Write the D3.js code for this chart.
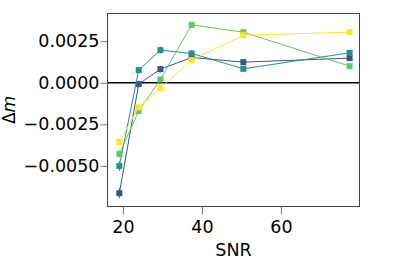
<!DOCTYPE html>
<meta charset="utf-8">
<style>
body{ margin: 0; background: white; }
text{ font-family: "DejaVu Sans", sans-serif; fill: black; }
</style>
<svg id="chart" width="399" height="266"></svg>
<script src="https://cdn.jsdelivr.net/npm/d3@7"></script>
<script>

var snr = [19.1, 24.0, 29.5, 37.4, 50.5, 77.4]

var seriesBlue   = [-0.00664, -0.00008, 0.00082, 0.00152, 0.00124, 0.00148]
var seriesTeal   = [-0.00500, 0.00076, 0.00196, 0.00176, 0.00084, 0.00180]
var seriesGreen  = [-0.00428, -0.00170, 0.00020, 0.00348, 0.00304, 0.00100]
var seriesYellow = [-0.00356, -0.00148, -0.00032, 0.00136, 0.00286, 0.00304]

var errBlue   = [0.0003, 0.0002, 0.0002, 0.0002, 0.0001, 0.0001]
var errTeal   = [0.0003, 0.0002, 0.0002, 0.0002, 0.0001, 0.0001]
var errGreen  = [0.0002, 0.0001, 0.0001, 0.0001, 0.0001, 0.0001]
var errYellow = [0.0002, 0.0001, 0.0001, 0.0001, 0.0001, 0.0001]

var xTicks = [20, 40, 60]
var yTicks = [-0.005, -0.0025, 0, 0.0025]

var series = [
  {vals: seriesBlue,   err: errBlue,   color: '#3b528b'},
  {vals: seriesTeal,   err: errTeal,   color: '#21918c'},
  {vals: seriesGreen,  err: errGreen,  color: '#5ec962'},
  {vals: seriesYellow, err: errYellow, color: '#fde725'}
]

var mLeft = 107.5, mRight = 359.5, mTop = 13.5, mBottom = 206.5

var x = d3.scaleLinear().domain([16.1, 79.9]).range([mLeft, mRight])
var y = d3.scaleLinear().domain([-0.00744, 0.004164]).range([mBottom, mTop])

var svg = d3.select('#chart')

// zero line
svg.append('line')
    .attr('x1', mLeft).attr('x2', mRight)
    .attr('y1', y(0)).attr('y2', y(0))
    .style('stroke', 'black').style('stroke-width', 1.5)

var line = d3.line()
    .x(function(d){ return x(d[0]) })
    .y(function(d){ return y(d[1]) })

series.forEach(function(s){
  var pts = snr.map(function(v, i){ return [v, s.vals[i], s.err[i]] })
  var g = svg.append('g')
  g.append('path')
      .attr('d', line(pts))
      .style('fill', 'none').style('stroke', s.color).style('stroke-width', 1)
  g.selectAll('line.err').data(pts).enter().append('line')
      .attr('x1', function(d){ return x(d[0]) })
      .attr('x2', function(d){ return x(d[0]) })
      .attr('y1', function(d){ return y(d[1] - d[2]) })
      .attr('y2', function(d){ return y(d[1] + d[2]) })
      .style('stroke', s.color).style('stroke-width', 1)
  g.selectAll('rect').data(pts).enter().append('rect')
      .attr('x', function(d){ return x(d[0]) - 3 })
      .attr('y', function(d){ return y(d[1]) - 3 })
      .attr('width', 6).attr('height', 6)
      .style('fill', s.color)
})

// frame
svg.append('rect')
    .attr('x', mLeft).attr('y', mTop)
    .attr('width', mRight - mLeft).attr('height', mBottom - mTop)
    .style('fill', 'none').style('stroke', '#444').style('stroke-width', 1)

var xAxis = svg.append('g')
    .attr('transform', 'translate(0,' + mBottom + ')')
    .call(d3.axisBottom(x).tickValues(xTicks).tickSize(8).tickPadding(6))
xAxis.select('.domain').remove()
xAxis.selectAll('text').style('font-size', '17.5px').attr('fill', 'black')
xAxis.selectAll('line').style('stroke', '#777')

var yAxis = svg.append('g')
    .attr('transform', 'translate(' + mLeft + ',0)')
    .call(d3.axisLeft(y).tickValues(yTicks).tickSize(7).tickPadding(1)
      .tickFormat(function(d){ return d3.format('.4f')(d).replace('-', '\u2212') }))
yAxis.select('.domain').remove()
yAxis.selectAll('text').style('font-size', '17.5px').attr('fill', 'black')
yAxis.selectAll('line').style('stroke', '#777')

svg.append('text')
    .attr('x', (mLeft + mRight) / 2).attr('y', 255.5)
    .attr('text-anchor', 'middle')
    .style('font-size', '17.5px')
    .text('SNR')

svg.append('text')
    .attr('transform', 'translate(14.5,110) rotate(-90)')
    .attr('text-anchor', 'middle')
    .style('font-size', '17px')
    .html('\u0394<tspan font-style="italic">m</tspan>')

</script>
